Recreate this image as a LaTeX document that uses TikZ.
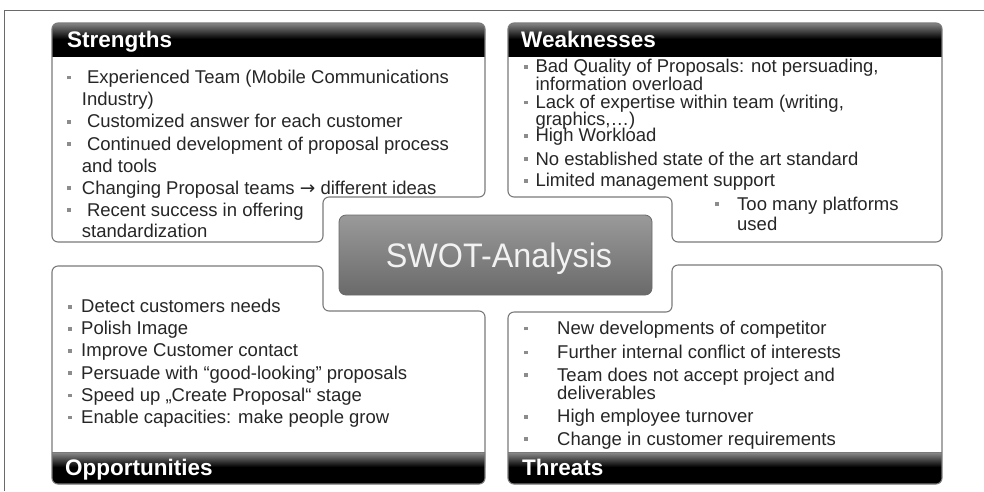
\documentclass[tikz,border=0pt]{standalone}
\usepackage{fontspec}
\setmainfont{Liberation Sans}
\newfontfamily\arrowfont{DejaVu Sans}

\definecolor{frameline}{HTML}{6A6A6A}
\definecolor{panelline}{HTML}{7A7A7A}
\definecolor{bodytext}{HTML}{262626}
\definecolor{bulletgray}{HTML}{8C8C8C}
\definecolor{bandtop}{HTML}{8E8E8E}
\definecolor{coretop}{HTML}{9A9A9A}
\definecolor{coremid}{HTML}{7A7A7A}
\definecolor{corebot}{HTML}{6A6A6A}

% small square bullet, set in a box of given width
\newcommand\sqbul{\textcolor{bulletgray}{\rule[4pt]{3.6pt}{3.6pt}}}
\newcommand\bulitem[1]{\makebox[#1][l]{\sqbul}}
\newcommand\rarr{{\arrowfont →}}

% outlines of the four quadrant panels
\def\pathS{(52,23) -- (485,23) -- (485,197) -- (323,197) -- (323,242) -- (52,242) -- cycle}
\def\pathW{(508,23) -- (942,23) -- (942,242) -- (672,242) -- (672,197) -- (508,197) -- cycle}
\def\pathO{(52,266) -- (323,266) -- (323,311) -- (485,311) -- (485,484) -- (52,484) -- cycle}
\def\pathT{(672,265) -- (942,265) -- (942,484) -- (508,484) -- (508,312) -- (672,312) -- cycle}

\begin{document}
\begin{tikzpicture}[x=1pt,y=-1pt,
  panel/.style={draw=panelline,line width=1.1pt,rounded corners=6pt},
  body/.style={anchor=base west,inner sep=0pt,text=bodytext,font=\fontsize{18.5}{20}\selectfont},
  head/.style={anchor=base west,inner sep=0pt,text=white,font=\fontsize{22.5}{24}\selectfont\bfseries},
  core/.style={rectangle,rounded corners=7pt,minimum width=313pt,minimum height=80pt,
    top color=coretop,middle color=coremid,bottom color=corebot,draw=corebot,line width=0.8pt},
  coretxt/.style={anchor=base,inner sep=0pt,text=white!95!black,font=\fontsize{34}{36}\selectfont},
  ]
\useasboundingbox (0,0) rectangle (984,491);
\fill[white] (0,0) rectangle (984,491);

% page frame
\draw[frameline,line width=1pt] (984,10) -- (4,10) -- (4,491);

% ---- Strengths panel
\fill[white,rounded corners=6pt] \pathS;
\begin{scope}
  \clip[rounded corners=6pt] \pathS;
  \shade[top color=bandtop,bottom color=black] (52,22) rectangle (485,39);
  \fill[black] (52,38.5) rectangle (485,57);
\end{scope}
\draw[panel] \pathS;

% ---- Weaknesses panel
\fill[white,rounded corners=6pt] \pathW;
\begin{scope}
  \clip[rounded corners=6pt] \pathW;
  \shade[top color=bandtop,bottom color=black] (508,22) rectangle (942,39);
  \fill[black] (508,38.5) rectangle (942,57);
\end{scope}
\draw[panel] \pathW;

% ---- Opportunities panel
\fill[white,rounded corners=6pt] \pathO;
\begin{scope}
  \clip[rounded corners=6pt] \pathO;
  \shade[top color=bandtop,bottom color=black] (52,452) rectangle (485,467);
  \fill[black] (52,466.5) rectangle (485,485);
\end{scope}
\draw[panel] \pathO;
\draw[panelline,line width=0.8pt] (52,452) -- (485,452);

% ---- Threats panel
\fill[white,rounded corners=6pt] \pathT;
\begin{scope}
  \clip[rounded corners=6pt] \pathT;
  \shade[top color=bandtop,bottom color=black] (508,452) rectangle (942,467);
  \fill[black] (508,466.5) rectangle (942,485);
\end{scope}
\draw[panel] \pathT;
\draw[panelline,line width=0.8pt] (508,452) -- (942,452);

% ---- headings
\node[head] (hS) at (67,47) {Strengths};
\node[head] (hW) at (521,47) {Weaknesses};
\node[head] (hO) at (65,475) {Opportunities};
\node[head] (hT) at (522,475) {Threats};

% ---- Strengths items
\node[body] (s1) at (67,83.3)  {\bulitem{14.7pt} Experienced Team (Mobile Communications};
\node[body] (s2) at (81.7,105.5) {Industry)};
\node[body] (s3) at (67,127.5) {\bulitem{14.7pt} Customized answer for each customer};
\node[body] (s4) at (67,150)   {\bulitem{14.7pt} Continued development of proposal process};
\node[body] (s5) at (81.7,172) {and tools};
\node[body] (s6) at (67,194)   {\bulitem{14.7pt}Changing Proposal teams \rarr{} different ideas};
\node[body] (s7) at (67,216)   {\bulitem{14.7pt} Recent success in offering};
\node[body] (s8) at (81.7,237.5) {standardization};

% ---- Weaknesses items
\node[body] (w1) at (523.7,72.7)  {\bulitem{11.6pt}Bad Quality of Proposals: not persuading,};
\node[body] (w2) at (535.3,90)    {information overload};
\node[body] (w3) at (523.7,108.3) {\bulitem{11.6pt}Lack of expertise within team (writing,};
\node[body] (w4) at (535.3,125)   {graphics,…)};
\node[body] (w5) at (523.7,141.7) {\bulitem{11.6pt}High Workload};
\node[body] (w6) at (523.7,165)   {\bulitem{11.6pt}No established state of the art standard};
\node[body] (w7) at (523.7,186.7) {\bulitem{11.6pt}Limited management support};
\node[body] (w8) at (715,210)     {\bulitem{22pt}Too many platforms};
\node[body] (w9) at (737,230)     {used};

% ---- Opportunities items
\node[body] (o1) at (68,312.7) {\bulitem{13pt}Detect customers needs};
\node[body] (o2) at (68,334.8) {\bulitem{13pt}Polish Image};
\node[body] (o3) at (68,356.9) {\bulitem{13pt}Improve Customer contact};
\node[body] (o4) at (68,379)   {\bulitem{13pt}Persuade with “good-looking” proposals};
\node[body] (o5) at (68,401.1) {\bulitem{13pt}Speed up „Create Proposal“ stage};
\node[body] (o6) at (68,423.2) {\bulitem{13pt}Enable capacities: make people grow};

% ---- Threats items
\node[body] (t1) at (523.7,334.3) {\bulitem{33.3pt}New developments of competitor};
\node[body] (t2) at (523.7,358.3) {\bulitem{33.3pt}Further internal conflict of interests};
\node[body] (t3) at (523.7,381)   {\bulitem{33.3pt}Team does not accept project and};
\node[body] (t4) at (557,399)     {deliverables};
\node[body] (t5) at (523.7,422.7) {\bulitem{33.3pt}High employee turnover};
\node[body] (t6) at (523.7,445)   {\bulitem{33.3pt}Change in customer requirements};

% ---- central title block
\node[core] (swot) at (495.5,255) {};
\node[coretxt] (swottxt) at (499,267) {\scalebox{0.95}[1]{SWOT-Analysis}};
\end{tikzpicture}
\end{document}
